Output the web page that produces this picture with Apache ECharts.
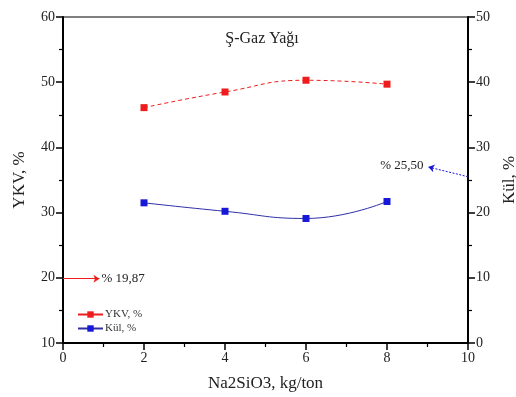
<!DOCTYPE html>
<html>
<head>
    <meta charset="utf-8">
    <title>ECharts</title>
    <script src="https://cdn.jsdelivr.net/npm/echarts@6/dist/echarts.min.js"></script>
    <style>
        body { margin: 0; background: #fff; }
    </style>
</head>
<body>
    <div id="main" style="width: 516px;height:397px;"></div>
    <script type="text/javascript">
        // data
        var dosage = [2, 4, 6, 8];                 // Na2SiO3, kg/ton
        var ykv = [46.1, 48.5, 50.3, 49.7];         // YKV, % (left axis)
        var kul = [21.5, 20.2, 19.1, 21.7];         // Kül, % (right axis)
        // annotation arrows: [from, to] in data coords
        var ykvArrow = [[0, 19.87], [0.9, 19.87]];
        var kulArrow = [[10, 25.5], [9.02, 27.0]];
        var ykvNote = '% 19,87';
        var kulNote = '% 25,50';

        var serif = '"Liberation Serif", "DejaVu Serif", serif';
        var red = '#ee1c1c';
        var blue = '#1717d8';

        function pairs(xs, ys) {
            return xs.map(function (x, i) { return [x, ys[i]]; });
        }

        var myChart = echarts.init(document.getElementById('main'));
        var axisCommon = {
            type: 'value',
            axisLine: { show: true, lineStyle: { color: '#000', width: 2 } },
            axisTick: { show: true, length: 7, lineStyle: { color: '#000', width: 1.5 } },
            minorTick: { show: true, splitNumber: 2, length: 4, lineStyle: { color: '#000', width: 1.2 } },
            axisLabel: { color: '#222', fontFamily: serif, fontSize: 14, margin: 8 },
            splitLine: { show: false },
            nameLocation: 'middle',
            nameTextStyle: { color: '#222', fontFamily: serif, fontSize: 17 }
        };

        var option = {
            animation: false,
            title: {
                text: 'Ş-Gaz Yağı',
                left: 257, top: 26,
                textAlign: 'center',
                textStyle: { fontFamily: serif, fontSize: 16, fontWeight: 'normal', color: '#222' }
            },
            grid: {
                left: 63, right: 48, top: 17, bottom: 54,
                outerBoundsMode: 'none',
                show: true, borderColor: '#000', borderWidth: 1
            },
            legend: {
                orient: 'vertical',
                left: 72, top: 304,
                itemWidth: 25, itemHeight: 8, itemGap: 3,
                lineStyle: { type: 'solid' },
                textStyle: { fontFamily: serif, fontSize: 11, color: '#333', padding: [0, 0, 0, -3] },
                data: ['YKV, %', 'Kül, %']
            },
            xAxis: Object.assign({}, axisCommon, {
                min: 0, max: 10, interval: 2,
                name: 'Na2SiO3, kg/ton', nameGap: 32
            }),
            yAxis: [
                Object.assign({}, axisCommon, {
                    min: 10, max: 60, interval: 10,
                    name: 'YKV, %', nameGap: 35
                }),
                Object.assign({}, axisCommon, {
                    position: 'right',
                    min: 0, max: 50, interval: 10,
                    name: 'Kül, %', nameGap: 32
                })
            ],
            series: [{
                name: 'YKV, %',
                type: 'line',
                yAxisIndex: 0,
                smooth: true,
                symbol: 'rect',
                symbolSize: 7,
                itemStyle: { color: red },
                lineStyle: { color: red, width: 1, type: [4, 3] },
                data: pairs(dosage, ykv),
                markLine: {
                    silent: true,
                    symbol: ['none', 'arrow'],
                    symbolSize: 6,
                    lineStyle: { color: red, width: 1, type: 'solid' },
                    label: {
                        position: 'end', distance: 2, formatter: ykvNote,
                        fontFamily: serif, fontSize: 13, color: '#222'
                    },
                    data: [[{ coord: ykvArrow[0] }, { coord: ykvArrow[1] }]]
                }
            }, {
                name: 'Kül, %',
                type: 'line',
                yAxisIndex: 1,
                smooth: true,
                symbol: 'rect',
                symbolSize: 7,
                itemStyle: { color: blue },
                lineStyle: { color: '#2e2ea6', width: 1 },
                data: pairs(dosage, kul),
                markLine: {
                    silent: true,
                    symbol: ['none', 'arrow'],
                    symbolSize: 6,
                    lineStyle: { color: blue, width: 1, type: [2, 1.5] },
                    label: {
                        position: 'end', distance: 5, formatter: kulNote,
                        fontFamily: serif, fontSize: 13, color: '#222'
                    },
                    data: [[{ coord: kulArrow[0] }, { coord: kulArrow[1] }]]
                }
            }]
        };
        myChart.setOption(option);
    </script>
</body>
</html>
